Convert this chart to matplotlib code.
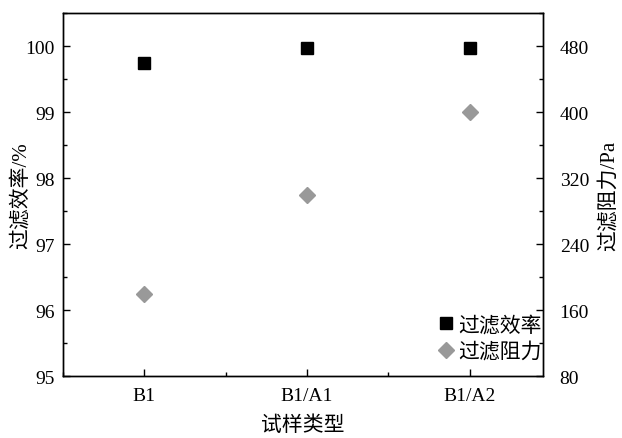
import matplotlib.pyplot as plt
from matplotlib.ticker import MultipleLocator

plt.rcParams['font.family'] = ['Liberation Serif', 'Noto Sans CJK SC']
plt.rcParams['axes.unicode_minus'] = False

samples = ["B1", "B1/A1", "B1/A2"]
efficiency = [99.75, 99.97, 99.97]      # %
resistance = [180, 300, 400]            # Pa

x = list(range(len(samples)))

fig = plt.figure(figsize=(6.22, 4.39), dpi=100)
ax = fig.add_axes([0.1013, 0.1412, 0.7717, 0.8268])
ax2 = ax.twinx()

h1, = ax.plot(x, efficiency, ls="none", marker="s", ms=8.5, color="black",
              label="过滤效率")
h2, = ax2.plot(x, resistance, ls="none", marker="D", ms=8, color="#999999",
               label="过滤阻力")

ax.set_xlim(-0.5, 2.45)
ax.set_ylim(95, 100.5)
ax2.set_ylim(80, 520)

ax.set_xticks(x)
ax.set_xticklabels(samples)
ax.xaxis.set_minor_locator(MultipleLocator(0.5))
ax.yaxis.set_major_locator(MultipleLocator(1))
ax.yaxis.set_minor_locator(MultipleLocator(0.5))
ax2.yaxis.set_major_locator(MultipleLocator(80))
ax2.yaxis.set_minor_locator(MultipleLocator(40))

for a in (ax, ax2):
    a.tick_params(which="major", direction="in", length=5, width=1, labelsize=14)
    a.tick_params(which="minor", direction="in", length=3, width=1)
    for s in a.spines.values():
        s.set_linewidth(1)
ax.tick_params(axis="x", pad=8)
ax.tick_params(axis="y", pad=6)
ax2.tick_params(axis="y", pad=12)
ax.set_yticks([95, 96, 97, 98, 99, 100])
ax2.set_yticks([80, 160, 240, 320, 400, 480])

ax.set_xlabel("试样类型", fontsize=15, labelpad=8)
ax.set_ylabel("过滤效率/%", fontsize=15, labelpad=-4)
ax2.set_ylabel("过滤阻力/Pa", fontsize=15, labelpad=7)

ax2.legend([h1, h2], ["过滤效率", "过滤阻力"], loc="lower right", frameon=False,
           fontsize=15, handletextpad=0.05, handlelength=1.1,
           bbox_to_anchor=(1.036, -0.013), labelspacing=0.3)

fig.savefig("out.png", dpi=100)
